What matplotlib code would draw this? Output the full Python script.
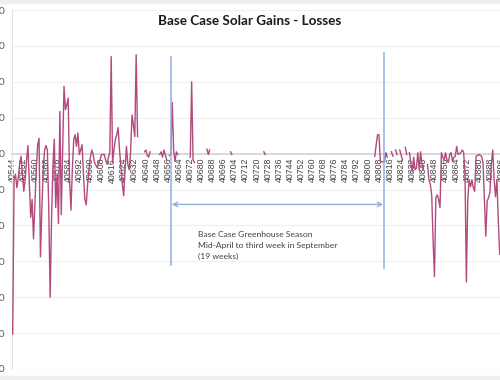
import numpy as np
import matplotlib
matplotlib.use("Agg")
import matplotlib.pyplot as plt
from matplotlib.patches import Rectangle

plt.rcParams['font.family'] = ['Lato', 'DejaVu Sans']

nan = np.nan
first_serial = 40544
n_days = 365

# daily solar gains - losses (blank cells = nan)
values = [
    -1005, -145, -115, -190, -135, -60, -15, -115, -210, -145,
    -35, 45, -170, -355, -255, -475, -285, -90, 50, 85,
    -575, -310, -90, 20, 45, 20, -310, -800, -365, -60,
    80, -300, -115, -390, 235, -340, 20, 375, 245, 270,
    310, -145, -315, -90, 80, 105, 40, 115, -5, 20,
    50, -115, -255, -285, -170, -90, -20, 20, -5, -50,
    -65, -80, -50, -35, -5, -5, -5, -35, -60, -20,
    5, 540, -50, 20, 80, 105, 145, 20, -70, -170,
    -235, -90, 40, -60, -90, 10, 215, 160, 95, 550,
    95,
]
values += [nan, nan, nan, nan, 10, 20, -10, -20, 10]           # d91-99
values += [nan] * 6                                             # d100-105
values += [-5, 10, -20, 20, -5, -35]                            # d106-111
values += [nan]                                                 # d112
values += [-10, -5, 285, 20, -45, 10, -5]                       # d113-119
values += [nan] * 8                                             # d120-127
values += [-20, 400, -35, -50]                                  # d128-131
values += [nan] * 8                                             # d132-139
values += [25, -5, 20]                                          # d140-142
values += [nan] * 14                                            # d143-156
values += [10, -5]                                              # d157-158
values += [nan] * 22                                            # d159-180
values += [10, -5]                                              # d181-182
values += [nan] * 78                                            # d183-260
values += [-15, 50, 105, 105, -45, -45, -45, -45, 5, -20]       # d261-270
values += [nan, nan, 10, -15, nan, 20, -5, nan, 20, -10, -35]   # d271-281
values += [nan, 35, -5, nan]                                    # d282-285
values += [5, -60, -100, -20, -90, -80, 5, -90, 10, -60, -90]   # d286-296
values += [nan, nan]                                            # d297-298
values += [-60, -145, -170, -230, -480, -685, -245, -230, -255, -300, 5]  # d299-309
values += [-20, -35, 5, -35, -50, -5, 5, -45, -20, -15]         # d310-319
values += [40, -5, 0, 5, 20, 10, -105, -715, -255, -145]        # d320-329
values += [-185, -145, -190, -210, -15, -10, -5, -10, -15, -50] # d330-339
values += [-255, -460, -265, -245, -215, -60, 20, -145, -240, -145, -370, -560]  # d340-351
values += [nan] * (n_days - len(values))

serials = [first_serial + i for i in range(n_days)]
tick_step = 8
y_ticks = [800, 600, 400, 200, 0, -200, -400, -600, -800, -1000, -1200]

title = "Base Case Solar Gains - Losses"
note_lines = ["Base Case Greenhouse Season",
              "Mid-April to third week in September",
              "(19 weeks)"]
season_start = 114.1
season_end = 267.6

W, H = 500, 380
fig = plt.figure(figsize=(W / 100, H / 100), dpi=100)
fig.patch.set_facecolor('white')

left_px, right_px = 12.0, 518.4
top_px, bot_px = 10.0, 369.0
ax = fig.add_axes([left_px / W, (H - bot_px) / H, (right_px - left_px) / W, (bot_px - top_px) / H])
ax.set_facecolor('none')

for s in ['top', 'right']:
    ax.spines[s].set_visible(False)
ax.spines['bottom'].set_position(('data', 0))
ax.spines['bottom'].set_color('#d9d9d9')
ax.spines['bottom'].set_linewidth(1.4)
ax.spines['left'].set_color('#e3e3e3')
ax.spines['left'].set_linewidth(0.8)

x = np.arange(n_days)
ax.plot(x, values, color='#b24a7e', lw=1.0, solid_joinstyle='round', zorder=3)

ax.set_xlim(-0.5, n_days - 0.5)
ax.set_ylim(-1200, 800)
ax.set_yticks(y_ticks)
ax.set_yticklabels([str(v) for v in y_ticks])
ax.yaxis.grid(True, color='#f0f0f0', lw=0.8)
ax.set_axisbelow(True)

tick_idx = list(range(0, n_days, tick_step))
ax.set_xticks(tick_idx)
ax.set_xticklabels([str(serials[i]) for i in tick_idx])
for lab in ax.get_xticklabels():
    lab.set_rotation(90)
    lab.set_fontsize(6.3)
    lab.set_color('#404040')
    lab.set_family(['Liberation Sans', 'DejaVu Sans'])
ax.tick_params(axis='x', length=0, pad=3)
ax.tick_params(axis='y', length=0, pad=5, labelsize=7.5, labelcolor='#595959')

blue = '#8fb0e0'
ax.plot([season_start, season_start], [540, -620], color=blue, lw=1.1, zorder=4, clip_on=False)
ax.plot([season_end, season_end], [560, -640], color=blue, lw=1.1, zorder=4, clip_on=False)
ax.annotate('', xy=(season_start + 0.5, -283), xytext=(season_end - 0.5, -283),
            arrowprops=dict(arrowstyle='<->', color=blue, lw=1.0, mutation_scale=8,
                            shrinkA=0, shrinkB=0), zorder=4)
ax.text(133.5, -430, "\n".join(note_lines), fontsize=6.1, color='#404040',
        va='top', ha='left', linespacing=1.63)

fig.text(0.5, 1 - 21 / H, title, ha='center', va='center', fontsize=9.7,
         fontweight='bold', color='#1a1a1a')

fig.patches.append(Rectangle((0, 1 - 3 / H), 1, 3 / H, transform=fig.transFigure,
                             color='#eeeeee', zorder=0))
fig.patches.append(Rectangle((0, 0), 1, 4 / H, transform=fig.transFigure,
                             color='#eeeeee', zorder=0))

fig.savefig('out.png', dpi=100)
